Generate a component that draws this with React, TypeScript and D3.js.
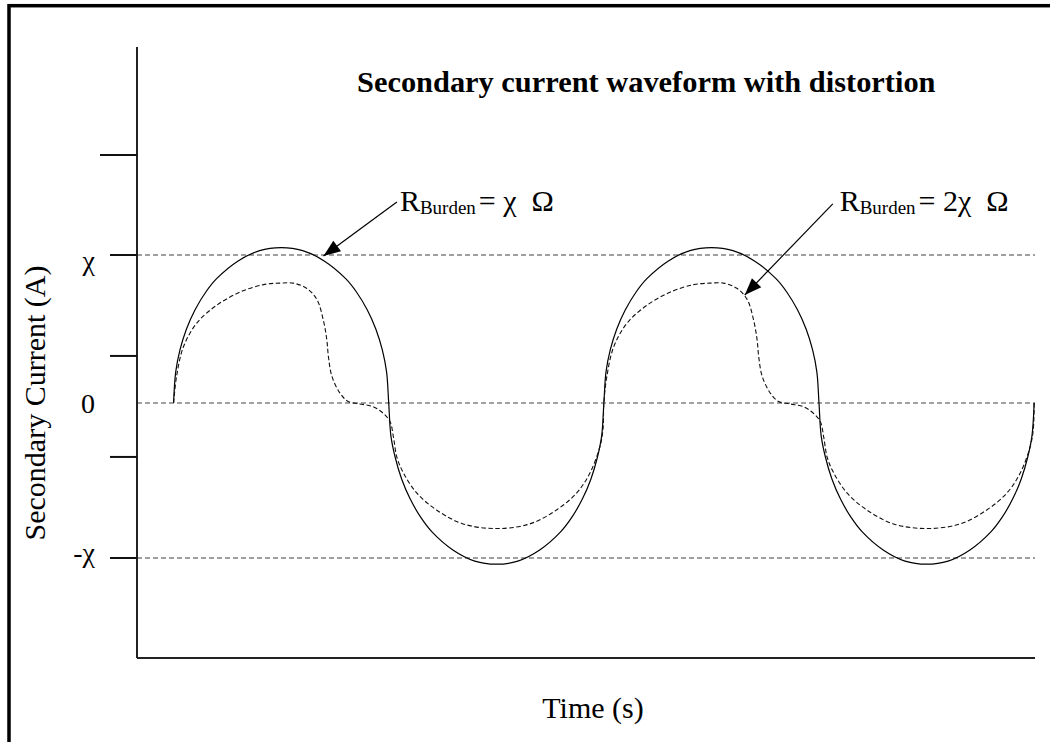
import React from 'react';
import * as d3 from 'd3';

const W = 1050;
const H = 742;

// Time in cycles, current in units of χ
const solidTime = [
  0, 0.005, 0.015, 0.03, 0.05, 0.075, 0.1, 0.15, 0.2, 0.25, 0.3, 0.35, 0.4, 0.425, 0.45, 0.47, 0.485, 0.495,
  0.5, 0.505, 0.515, 0.53, 0.55, 0.575, 0.6, 0.65, 0.7, 0.75, 0.8, 0.85, 0.9, 0.925, 0.95, 0.97, 0.985, 0.995,
  1, 1.005, 1.015, 1.03, 1.05, 1.075, 1.1, 1.15, 1.2, 1.25, 1.3, 1.35, 1.4, 1.425, 1.45, 1.47, 1.485, 1.495,
  1.5, 1.505, 1.515, 1.53, 1.55, 1.575, 1.6, 1.65, 1.7, 1.75, 1.8, 1.85, 1.9, 1.925, 1.95, 1.97, 1.985, 1.995,
  2,
];
const solidCurrent = [
  0, 0.21, 0.36, 0.5, 0.63, 0.75, 0.84, 0.96, 1.03, 1.05, 1.03, 0.96, 0.84, 0.75, 0.63, 0.5, 0.36, 0.21,
  0, -0.21, -0.35, -0.49, -0.62, -0.74, -0.83, -0.95, -1.02, -1.04, -1.02, -0.95, -0.83, -0.74, -0.62, -0.49, -0.35, -0.21,
  0, 0.21, 0.36, 0.5, 0.63, 0.75, 0.84, 0.96, 1.03, 1.05, 1.03, 0.96, 0.84, 0.75, 0.63, 0.5, 0.36, 0.21,
  0, -0.21, -0.35, -0.49, -0.62, -0.74, -0.83, -0.95, -1.02, -1.04, -1.02, -0.95, -0.83, -0.74, -0.62, -0.49, -0.35, -0.21,
  0,
];

const dashedTime = [
  0, 0.007, 0.023, 0.054, 0.1, 0.155, 0.209, 0.247, 0.278, 0.309, 0.333, 0.348, 0.356, 0.36, 0.368, 0.387, 0.406, 0.433, 0.464, 0.487,
  0.503, 0.511, 0.519, 0.534, 0.565, 0.611, 0.673, 0.751, 0.828, 0.89, 0.937, 0.968, 0.991, 0.998,
  1, 1.007, 1.023, 1.054, 1.1, 1.155, 1.209, 1.247, 1.278, 1.309, 1.333, 1.348, 1.356, 1.36, 1.368, 1.387, 1.406, 1.433, 1.464, 1.487,
  1.503, 1.511, 1.519, 1.534, 1.565, 1.611, 1.673, 1.751, 1.828, 1.89, 1.937, 1.968, 1.991, 1.998,
  2,
];
const dashedCurrent = [
  0, 0.18, 0.38, 0.54, 0.66, 0.75, 0.8, 0.81, 0.81, 0.775, 0.7, 0.56, 0.43, 0.31, 0.18, 0.066, 0.01, -0.006, -0.024, -0.066,
  -0.12, -0.22, -0.35, -0.45, -0.58, -0.69, -0.78, -0.81, -0.78, -0.69, -0.58, -0.45, -0.28, -0.17,
  0, 0.18, 0.38, 0.54, 0.66, 0.75, 0.8, 0.81, 0.81, 0.775, 0.7, 0.56, 0.43, 0.31, 0.18, 0.066, 0.01, -0.006, -0.024, -0.066,
  -0.12, -0.22, -0.35, -0.45, -0.58, -0.69, -0.78, -0.81, -0.78, -0.69, -0.58, -0.45, -0.28, -0.17,
  0,
];

const yTickValues = [1.676, 1, 0.318, -0.348, -1];
const yTickLabels = ['χ', '0', '-χ'];
const yTickLabelValues = [1, 0, -1];
const referenceLevels = [1, 0, -1];

const annotationFactors = ['χ', '2χ'];
const annotationFrom = [[0.519, 1.358], [1.532, 1.345]];
const annotationTip = [[0.3484, 0.993], [1.3275, 0.73]];
const annotationLabelAt = [[0.526, 1.297], [1.548, 1.297]];

const FONT = '"Liberation Serif", "Times New Roman", Times, serif';

export default function App() {
  const x = d3.scaleLinear().domain([-0.085, 2.002]).range([137, 1035]);
  const y = d3.scaleLinear().domain([-1.645, -1, 0, 1, 2.405]).range([658, 558, 403, 255, 47]);

  const line = d3
    .line<[number, number]>()
    .x((d) => x(d[0]))
    .y((d) => y(d[1]))
    .curve(d3.curveCatmullRom.alpha(0.5));

  const solidPts = solidTime.map((t, i) => [t, solidCurrent[i]] as [number, number]);
  const dashedPts = dashedTime.map((t, i) => [t, dashedCurrent[i]] as [number, number]);

  const [x0, x1] = x.range();
  const yTop = y(2.405);
  const yBot = y(-1.645);

  const arrowHead = (sx: number, sy: number, px: number, py: number) => {
    const dx = px - sx;
    const dy = py - sy;
    const len = Math.hypot(dx, dy);
    const ux = dx / len;
    const uy = dy / len;
    const L = 17;
    const w = 6.5;
    const bx = px - ux * L;
    const by = py - uy * L;
    return `${px},${py} ${bx - uy * w},${by + ux * w} ${bx + uy * w},${by - ux * w}`;
  };

  const labelDy = [15, 10, 4];

  return (
    <svg
      width={W}
      height={H}
      style={{ position: 'absolute', left: 0, top: 0, background: '#fff' }}
      fontFamily={FONT}
    >
      <rect x={0} y={0} width={W} height={H} fill="#fff" />
      {/* outer frame (cropped) */}
      <rect x={9} y={5.7} width={3000} height={3000} fill="none" stroke="#000" strokeWidth={3.5} />

      {/* title */}
      <text x={357} y={92} fontSize={30.4} fontWeight="bold" fill="#000">
        Secondary current waveform with distortion
      </text>

      {/* reference lines */}
      {referenceLevels.map((v) => (
        <line
          key={'ref' + v}
          x1={x0}
          x2={x1}
          y1={y(v)}
          y2={y(v)}
          stroke={v === 0 ? '#444' : '#808080'}
          strokeWidth={v === 0 ? 1.1 : 1.6}
          strokeDasharray="5,3"
        />
      ))}

      {/* curves */}
      <path d={line(solidPts) || ''} fill="none" stroke="#000" strokeWidth={1.2} />
      <path d={line(dashedPts) || ''} fill="none" stroke="#111" strokeWidth={1.1} strokeDasharray="4.5,2.5" />

      {/* axes */}
      <line x1={x0} x2={x0} y1={yTop} y2={yBot} stroke="#222" strokeWidth={2} />
      <line x1={x0} x2={x1} y1={yBot} y2={yBot} stroke="#222" strokeWidth={2} />
      {yTickValues.map((v, i) => (
        <line
          key={'tick' + i}
          x1={i === 0 ? 100 : 110}
          x2={x0}
          y1={y(v)}
          y2={y(v)}
          stroke="#111"
          strokeWidth={2}
        />
      ))}
      {yTickLabels.map((lab, i) => (
        <text
          key={'tl' + i}
          x={95}
          y={y(yTickLabelValues[i]) + labelDy[i]}
          fontSize={28}
          textAnchor="end"
          fill="#000"
        >
          {lab}
        </text>
      ))}

      {/* axis titles */}
      <text
        transform={`translate(45, ${y(0)}) rotate(-90)`}
        fontSize={30}
        textAnchor="middle"
        fill="#000"
      >
        Secondary Current (A)
      </text>
      <text x={593} y={718} fontSize={30} textAnchor="middle" fill="#000">
        Time (s)
      </text>

      {/* annotations */}
      {annotationFactors.map((f, i) => {
        const sx = x(annotationFrom[i][0]);
        const sy = y(annotationFrom[i][1]);
        const px = x(annotationTip[i][0]);
        const py = y(annotationTip[i][1]);
        const lx = x(annotationLabelAt[i][0]);
        const ly = y(annotationLabelAt[i][1]);
        return (
          <g key={'ann' + i}>
            <line x1={sx} y1={sy} x2={px} y2={py} stroke="#000" strokeWidth={1.2} />
            <polygon points={arrowHead(sx, sy, px, py)} fill="#000" />
            <text x={lx} y={ly} fontSize={30} fill="#000" style={{ whiteSpace: 'pre' }}>
              R
              <tspan fontSize={19} dy={2.5}>Burden</tspan>
              <tspan dy={-2.5} dx={3}>{`= ${f}  Ω`}</tspan>
            </text>
          </g>
        );
      })}
    </svg>
  );
}
